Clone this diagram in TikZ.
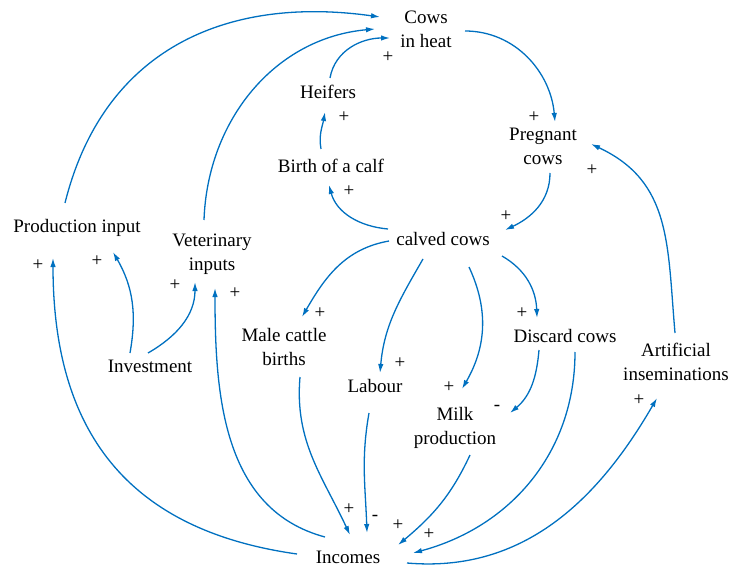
\documentclass[tikz,border=0pt]{standalone}
\usepackage{fontspec}
\setmainfont{Liberation Serif}
\usetikzlibrary{arrows.meta}
\definecolor{linkblue}{RGB}{0,112,192}
\tikzset{
  var/.style={align=center, font=\fontsize{19}{24}\selectfont, inner sep=1pt},
  sign/.style={font=\fontsize{19}{24}\selectfont, inner sep=0pt},
  link/.style={linkblue, line width=1.3pt, -{Latex[length=9pt,width=5.5pt]}},
}
\begin{document}
\begin{tikzpicture}[x=1pt,y=1pt]
  \useasboundingbox (0,0) rectangle (730,571);
  % variables
  \node[var] (heat)    at (426,542) {Cows\\in heat};
  \node[var] (heifers) at (328,479) {Heifers};
  \node[var] (calf)    at (331,405) {Birth of a calf};
  \node[var] (preg)    at (543,425) {Pregnant\\cows};
  \node[var] (calved)  at (443,332) {calved cows};
  \node[var] (prod)    at (77,343)  {Production input};
  \node[var] (vet)     at (212,317) {Veterinary\\inputs};
  \node[var] (invest)  at (150,205) {Investment};
  \node[var] (male)    at (284,224) {Male cattle\\births};
  \node[var] (labour)  at (375,185) {Labour};
  \node[var] (milk)    at (455,143) {Milk\\production};
  \node[var] (discard) at (565,235) {Discard cows};
  \node[var] (ai)      at (676,209) {Artificial\\inseminations};
  \node[var] (income)  at (348,14)  {Incomes};
  % links
  \draw[link] ([shift={(-12,25)}]prod.center) to[out=76,in=172,looseness=1.1] ([shift={(-46,12)}]heat.center);
  \draw[link] ([shift={(-8,34)}]vet.center) to[out=88,in=185] ([shift={(-51,0)}]heat.center);
  \draw[link] ([shift={(2,14)}]heifers.center) to[out=80,in=180] ([shift={(-36,-9)}]heat.center);
  \draw[link] ([shift={(-10,17)}]calf.center) to[out=100,in=-100] ([shift={(-3,-20)}]heifers.center);
  \draw[link] ([shift={(-55,10)}]calved.center) to[out=175,in=-75] ([shift={(-2,-19)}]calf.center);
  \draw[link] ([shift={(39,-2)}]heat.center) to[out=0,in=95] ([shift={(12,24)}]preg.center);
  \draw[link] ([shift={(7,-27)}]preg.center) to[out=-90,in=25] ([shift={(62,9)}]calved.center);
  \draw[link] ([shift={(-1,29)}]ai.center) to[out=95,in=-25,looseness=1.1] ([shift={(48,2)}]preg.center);
  \draw[link] ([shift={(-54,-2)}]calved.center) to[out=190,in=60] ([shift={(18,30)}]male.center);
  \draw[link] ([shift={(-20,-20)}]calved.center) to[out=240,in=85] ([shift={(5,13)}]labour.center);
  \draw[link] ([shift={(26,-28)}]calved.center) to[out=-65,in=60] ([shift={(7,39)}]milk.center);
  \draw[link] ([shift={(59,-17)}]calved.center) to[out=-30,in=92] ([shift={(-28,18)}]discard.center);
  \draw[link] ([shift={(-26,-14)}]discard.center) to[out=-95,in=40] ([shift={(55,15)}]milk.center);
  \draw[link] ([shift={(-20,13)}]invest.center) to[out=80,in=-60] ([shift={(36,-24)}]prod.center);
  \draw[link] ([shift={(-2,13)}]invest.center) to[out=30,in=-90] ([shift={(-17,-28)}]vet.center);
  \draw[link] ([shift={(-51,3)}]income.center) to[out=172,in=-90,looseness=1.15] ([shift={(-24,-30)}]prod.center);
  \draw[link] ([shift={(-23,20)}]income.center) to[out=165,in=-90] ([shift={(3,-34)}]vet.center);
  \draw[link] ([shift={(16,-30)}]male.center) to[out=-95,in=115] ([shift={(2,22)}]income.center);
  \draw[link] ([shift={(-6,-27)}]labour.center) to[out=-100,in=92] ([shift={(19,24)}]income.center);
  \draw[link] ([shift={(15,-27)}]milk.center) to[out=-115,in=40] ([shift={(50,12)}]income.center);
  \draw[link] ([shift={(10,-16)}]discard.center) to[out=-90,in=15] ([shift={(65,4)}]income.center);
  \draw[link] ([shift={(59,-6)}]income.center) to[out=-5,in=240] ([shift={(-19,-36)}]ai.center);
  % polarities
  \node[sign] (s1)  at (388,514) {+};
  \node[sign] (s2)  at (344,454) {+};
  \node[sign] (s3)  at (349,380) {+};
  \node[sign] (s4)  at (534,454) {+};
  \node[sign] (s5)  at (592,401) {+};
  \node[sign] (s6)  at (506,355) {+};
  \node[sign] (s7)  at (38,306)  {+};
  \node[sign] (s8)  at (97,310)  {+};
  \node[sign] (s9)  at (175,286) {+};
  \node[sign] (s10) at (235,278) {+};
  \node[sign] (s11) at (320,258) {+};
  \node[sign] (s12) at (400,208) {+};
  \node[sign] (s13) at (449,184) {+};
  \node[sign] (s14) at (522,258) {+};
  \node[sign] (s15) at (497,163) {-};
  \node[sign] (s16) at (639,171) {+};
  \node[sign] (s17) at (349,62)  {+};
  \node[sign] (s18) at (375,53)  {-};
  \node[sign] (s19) at (398,46)  {+};
  \node[sign] (s20) at (429,37)  {+};
\end{tikzpicture}
\end{document}
